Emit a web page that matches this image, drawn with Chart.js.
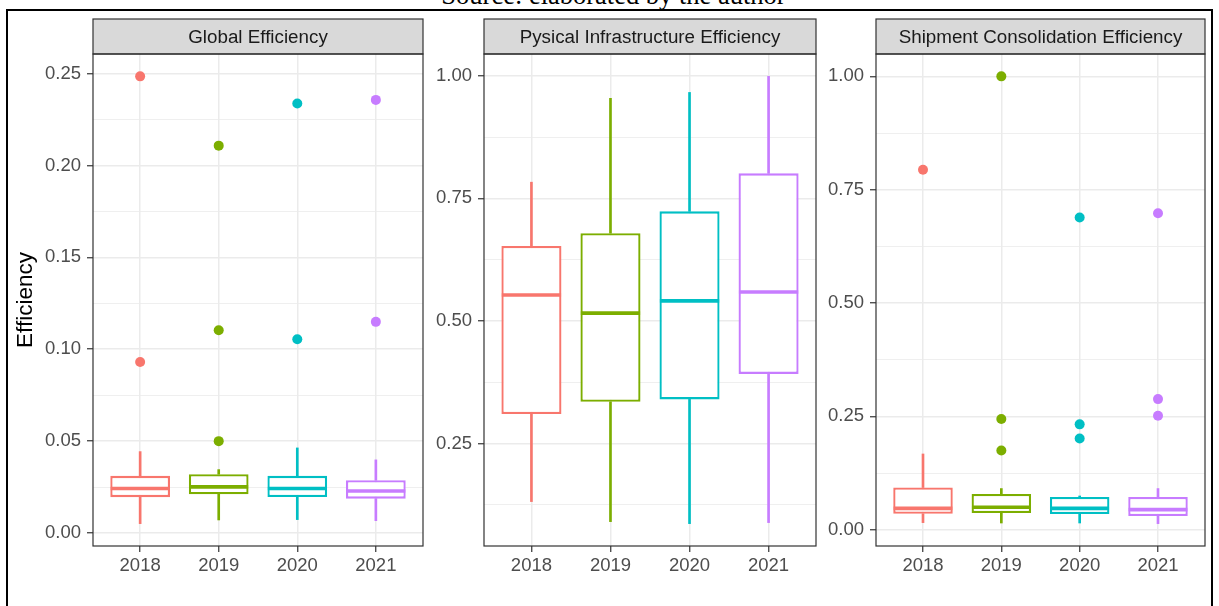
<!DOCTYPE html>
<html>
<head>
<meta charset="utf-8">
<title>Efficiency boxplots</title>
<style>
	html, body { margin: 0; padding: 0; background: #fff; }
	body { width: 1219px; height: 606px; overflow: hidden; position: relative; font-family: "Liberation Sans", Arial, sans-serif; }
	#source { position: absolute; left: 0; width: 1219px; top: -18px; text-align: center; font: 26.5px/26.5px "Liberation Serif", "Times New Roman", serif; color: #000; margin-left: 4px; }
	#frame { position: absolute; left: 6px; top: 9px; width: 1207px; height: 700px; box-sizing: border-box; border: 2px solid #000; }
	canvas { position: absolute; top: 15px; }
</style>
</head>
<body>

<div id="source">Source: elaborated by the author</div>
<div id="frame"></div>

<canvas id="globalChart" width="420" height="585" style="left:8px;width:420px;height:585px"></canvas>
<canvas id="infraChart" width="389" height="585" style="left:431px;width:389px;height:585px"></canvas>
<canvas id="shipChart" width="387" height="585" style="left:823px;width:387px;height:585px"></canvas>

<script src="https://cdn.jsdelivr.net/npm/chart.js@4"></script>

<script>
	const years = ["2018", "2019", "2020", "2021"]
	const colours = ["#F8766D", "#7CAE00", "#00BFC4", "#C77CFF"]

	// Global Efficiency
	const globalLow = [0.0051, 0.0071, 0.0073, 0.0067]
	const globalQ1 = [0.0195, 0.0211, 0.0196, 0.0187]
	const globalMedian = [0.0242, 0.0251, 0.0242, 0.0229]
	const globalQ3 = [0.0311, 0.0320, 0.0311, 0.0287]
	const globalHigh = [0.0443, 0.0345, 0.0463, 0.0398]
	const globalOutliers = [[0.2485, 0.0931], [0.2108, 0.1103, 0.0500], [0.2337, 0.1054], [0.2357, 0.1149]]
	const globalTicks = [0, 0.05, 0.10, 0.15, 0.20, 0.25]
	const globalMinor = [0.025, 0.075, 0.125, 0.175, 0.225]

	// Pysical Infrastructure Efficiency
	const infraLow = [0.1316, 0.0907, 0.0866, 0.0887]
	const infraQ1 = [0.310, 0.335, 0.340, 0.392]
	const infraMedian = [0.553, 0.516, 0.541, 0.559]
	const infraQ3 = [0.653, 0.679, 0.7235, 0.801]
	const infraHigh = [0.783, 0.954, 0.966, 0.9988]
	const infraOutliers = [[], [], [], []]
	const infraTicks = [0.25, 0.50, 0.75, 1.00]
	const infraMinor = [0.125, 0.375, 0.625, 0.875]

	// Shipment Consolidation Efficiency
	const shipLow = [0.0155, 0.0147, 0.0147, 0.0133]
	const shipQ1 = [0.035, 0.0368, 0.0345, 0.030]
	const shipMedian = [0.047, 0.0493, 0.047, 0.0442]
	const shipQ3 = [0.093, 0.0788, 0.072, 0.072]
	const shipHigh = [0.167, 0.0907, 0.0743, 0.0907]
	const shipOutliers = [[0.794], [1.0, 0.244, 0.1748], [0.6887, 0.2323, 0.2013], [0.698, 0.288, 0.2513]]
	const shipTicks = [0, 0.25, 0.50, 0.75, 1.00]
	const shipMinor = [0.125, 0.375, 0.625, 0.875]

	const FONT = "'Liberation Sans', Arial, sans-serif"
	const STRIP = 35

	// strip on top of the panel and the grey panel border, like facet_wrap + theme_bw
	const panelFrame = {
		id: "panelFrame",
		afterDraw(chart, args, opts) {
			const ctx = chart.ctx
			const a = chart.chartArea
			const w = a.right - a.left
			ctx.save()
			ctx.fillStyle = "#d9d9d9"
			ctx.fillRect(a.left, a.top - STRIP, w, STRIP)
			ctx.strokeStyle = "#333333"
			ctx.lineWidth = 1.2
			ctx.strokeRect(a.left, a.top - STRIP, w, STRIP)
			ctx.strokeRect(a.left, a.top, w, a.bottom - a.top)
			ctx.fillStyle = "#1a1a1a"
			ctx.font = "18.8px " + FONT
			ctx.textAlign = "center"
			ctx.textBaseline = "alphabetic"
			ctx.fillText(opts.title, (a.left + a.right) / 2, a.top - 11)
			ctx.restore()
		}
	}

	function halfBox(chart) {
		const x = chart.scales.x
		return (x.getPixelForValue(2) - x.getPixelForValue(1)) * 0.375
	}

	function boxChart(id, title, low, q1, median, q3, high, outliers, majors, minors, opts) {
		const all = low.concat(high, outliers.flat())
		const lo = Math.min(...all), hi = Math.max(...all)
		const pad = (hi - lo) * 0.05

		const outPts = [], outCols = []
		outliers.forEach((list, i) => list.forEach(v => {
			outPts.push({x: i + 1, y: v})
			outCols.push(colours[i])
		}))

		const isMajor = v => majors.includes(v)

		return new Chart(document.getElementById(id), {
			type: "bar",
			data: {
				datasets: [
					{
						type: "scatter",
						label: "median",
						data: median.map((v, i) => ({x: i + 1, y: v})),
						pointStyle: "line",
						pointRadius: c => halfBox(c.chart),
						pointBorderWidth: 3.6,
						pointBorderColor: colours,
					},
					{
						type: "scatter",
						label: "outliers",
						data: outPts,
						pointRadius: 5,
						pointBorderWidth: 0,
						pointBackgroundColor: outCols,
					},
					{
						label: "box",
						data: q1.map((v, i) => ({x: i + 1, y: [v, q3[i]]})),
						backgroundColor: "#ffffff",
						borderColor: colours,
						borderWidth: 2.3,
						borderSkipped: false,
						grouped: false,
						barPercentage: 0.76,
						categoryPercentage: 1,
					},
					{
						label: "lower whisker",
						data: low.map((v, i) => ({x: i + 1, y: [v, q1[i]]})),
						backgroundColor: colours,
						borderWidth: 0,
						barThickness: 2,
						grouped: false,
					},
					{
						label: "upper whisker",
						data: high.map((v, i) => ({x: i + 1, y: [q3[i], v]})),
						backgroundColor: colours,
						borderWidth: 0,
						barThickness: 2,
						grouped: false,
					},
				]
			},
			options: {
				responsive: false,
				animation: false,
				events: [],
				layout: {padding: {top: 4 + STRIP, right: opts.right, bottom: 0, left: 0}},
				plugins: {
					legend: {display: false},
					tooltip: {enabled: false},
					panelFrame: {title: title},
				},
				scales: {
					x: {
						type: "linear",
						min: 0.4,
						max: years.length + 0.6,
						offset: false,
						border: {display: false},
						grid: {offset: false, color: "#ebebeb", lineWidth: 1.5, tickColor: "#333333", tickWidth: 1.2, tickLength: 6},
						ticks: {color: "#4d4d4d", font: {family: FONT, size: 18.5}, padding: 3, maxRotation: 0, autoSkip: false, callback: v => years[v - 1]},
						afterBuildTicks: s => { s.ticks = years.map((y, i) => ({value: i + 1})) },
						afterFit: s => { s.height = 54 },
					},
					y: {
						type: "linear",
						bounds: "data",
						min: lo - pad,
						max: hi + pad,
						border: {display: false},
						grid: {
							color: "#ebebeb",
							lineWidth: c => isMajor(c.tick.value) ? 1.5 : 0.8,
							tickColor: c => isMajor(c.tick.value) ? "#333333" : "rgba(0,0,0,0)",
							tickWidth: 1.2,
							tickLength: 6,
						},
						ticks: {color: "#4d4d4d", font: {family: FONT, size: 18.5}, padding: 6, autoSkip: false, callback: v => isMajor(v) ? v.toFixed(2) : ""},
						afterBuildTicks: s => { s.ticks = majors.concat(minors).sort((a, b) => a - b).map(v => ({value: v})) },
						afterFit: s => { s.width = opts.axisWidth },
						title: opts.yTitle ? {display: true, text: opts.yTitle, color: "#000000", font: {family: FONT, size: 22.5}, padding: {top: 4, bottom: 0}} : {display: false},
					}
				}
			},
			plugins: [panelFrame]
		})
	}

	boxChart("globalChart", "Global Efficiency", globalLow, globalQ1, globalMedian, globalQ3, globalHigh, globalOutliers, globalTicks, globalMinor, {axisWidth: 85, right: 4, yTitle: "Efficiency"})
	boxChart("infraChart", "Pysical Infrastructure Efficiency", infraLow, infraQ1, infraMedian, infraQ3, infraHigh, infraOutliers, infraTicks, infraMinor, {axisWidth: 53, right: 4})
	boxChart("shipChart", "Shipment Consolidation Efficiency", shipLow, shipQ1, shipMedian, shipQ3, shipHigh, shipOutliers, shipTicks, shipMinor, {axisWidth: 53, right: 3})
</script>
</body>
</html>
